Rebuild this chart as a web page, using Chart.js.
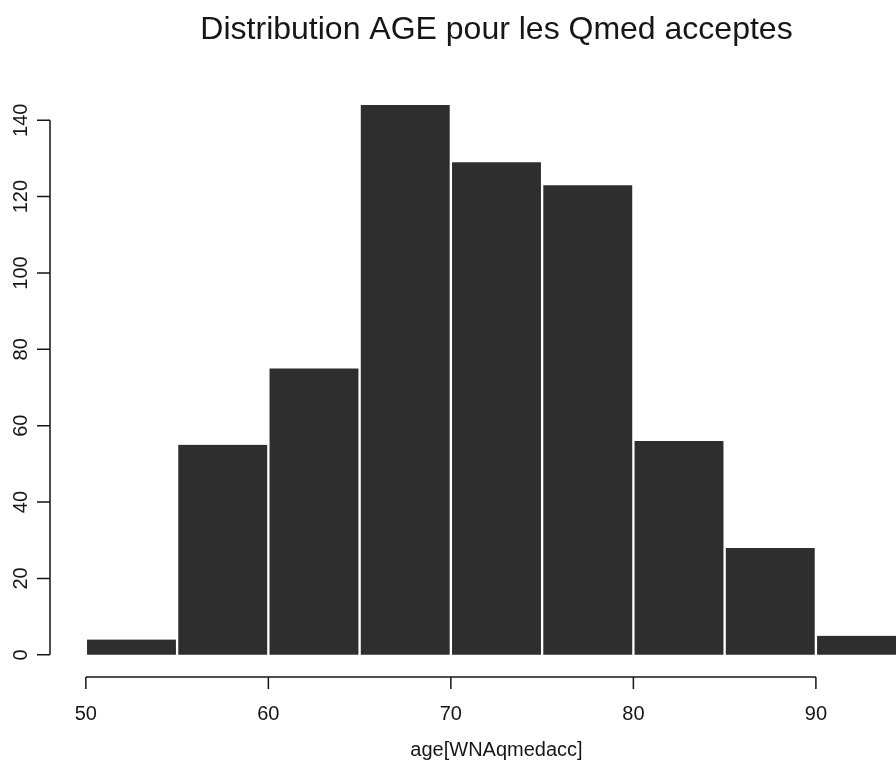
<!DOCTYPE html>
<html>
<head>
<meta charset="utf-8">
<script src="https://cdn.jsdelivr.net/npm/chart.js@4/dist/chart.umd.min.js"></script>
<style>
  html, body { margin: 0; padding: 0; background: #fff; overflow: hidden; width: 896px; height: 765px; }
  #wrap { position: absolute; left: 0; top: 0; width: 945px; height: 765px; }
</style>
</head>
<body>
<div id="wrap"><canvas id="c" width="945" height="765"></canvas></div>
<script>
// Histogram of ages: 5-year bins starting at 50
const binStarts = [50, 55, 60, 65, 70, 75, 80, 85, 90];
const binWidth = 5;
const counts = [4, 55, 75, 144, 129, 123, 56, 28, 5];
const xTicks = [50, 60, 70, 80, 90];
const yTicks = [0, 20, 40, 60, 80, 100, 120, 140];
const titleText = 'Distribution AGE pour les Qmed acceptes';
const xTitle = 'age[WNAqmedacc]';

const FONT = '"Liberation Sans", Arial, Helvetica, sans-serif';
const INK = '#161616';

// R-style detached axes, title and labels drawn from the chart's scales
const baseGraphics = {
  id: 'baseGraphics',
  afterDraw(chart) {
    const { ctx, chartArea } = chart;
    const xs = chart.scales.x, ys = chart.scales.y;
    ctx.save();
    ctx.strokeStyle = INK;
    ctx.fillStyle = INK;
    ctx.lineWidth = 1.5;

    // y axis
    const yAxisX = chartArea.left - 3;
    const y0 = ys.getPixelForValue(yTicks[0]);
    const y1 = ys.getPixelForValue(yTicks[yTicks.length - 1]);
    ctx.beginPath();
    ctx.moveTo(yAxisX, y0); ctx.lineTo(yAxisX, y1);
    yTicks.forEach(v => {
      const p = ys.getPixelForValue(v);
      ctx.moveTo(yAxisX, p); ctx.lineTo(yAxisX - 13, p);
    });
    ctx.stroke();
    ctx.font = '20px ' + FONT;
    ctx.textAlign = 'center';
    ctx.textBaseline = 'middle';
    yTicks.forEach(v => {
      const p = ys.getPixelForValue(v);
      ctx.save();
      ctx.translate(21, p);
      ctx.rotate(-Math.PI / 2);
      ctx.fillText(String(v), 0, 0);
      ctx.restore();
    });

    // x axis
    const axisY = chartArea.bottom;
    const xa = xs.getPixelForValue(xTicks[0]);
    const xb = xs.getPixelForValue(xTicks[xTicks.length - 1]);
    ctx.beginPath();
    ctx.moveTo(xa, axisY); ctx.lineTo(xb, axisY);
    xTicks.forEach(v => {
      const p = xs.getPixelForValue(v);
      ctx.moveTo(p, axisY); ctx.lineTo(p, axisY + 12);
    });
    ctx.stroke();
    xTicks.forEach(v => {
      ctx.fillText(String(v), xs.getPixelForValue(v), axisY + 37);
    });

    // titles
    const midX = (chartArea.left + chartArea.right) / 2;
    ctx.fillText(xTitle, midX, axisY + 73);
    ctx.font = '32px ' + FONT;
    ctx.fillText(titleText, midX, 30);
    ctx.restore();
  }
};

new Chart(document.getElementById('c'), {
  type: 'bar',
  data: {
    datasets: [{
      data: binStarts.map((s, i) => ({ x: s + binWidth / 2, y: counts[i] })),
      backgroundColor: '#2e2e2e',
      borderColor: '#ffffff',
      borderWidth: { left: 1.5, right: 1.5, top: 0, bottom: 0 },
      borderSkipped: 'start',
      barPercentage: 1,
      categoryPercentage: 1
    }]
  },
  options: {
    responsive: false,
    animation: false,
    devicePixelRatio: 1,
    layout: { padding: { left: 53, right: 5, top: 79, bottom: 88 } },
    plugins: { legend: { display: false }, tooltip: { enabled: false }, title: { display: false } },
    scales: {
      x: {
        type: 'linear', min: 48.2, max: 96.8, display: false, offset: false,
        grid: { offset: false },
        afterBuildTicks: s => { s.ticks = xTicks.map(v => ({ value: v })); }
      },
      y: { type: 'linear', min: -5.8, max: 150.8, display: false }
    }
  },
  plugins: [baseGraphics]
});
</script>
</body>
</html>
